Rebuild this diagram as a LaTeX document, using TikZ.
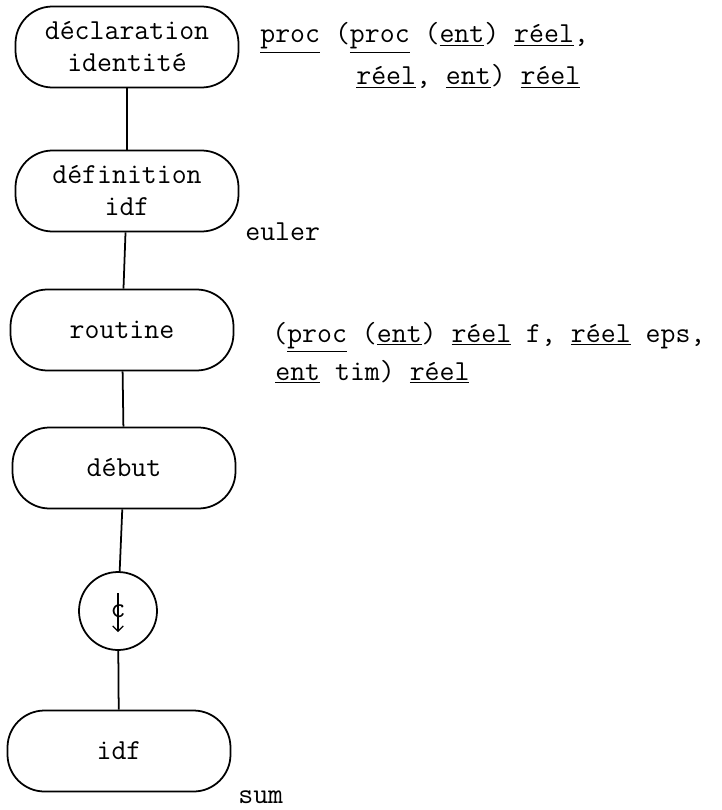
\documentclass[tikz,border=0pt]{standalone}
\usetikzlibrary{arrows.meta}
\newcommand{\kw}[1]{\underline{#1}}
\begin{document}
\begin{tikzpicture}[
  flowfont/.style = {font=\ttfamily\fontsize{16.5}{18.2}\selectfont},
  flowbox/.style = {draw, line width=1pt, rectangle, rounded corners=0.74cm,
                    minimum width=4.46cm, minimum height=1.62cm, align=center, flowfont},
  flowcirc/.style = {draw, line width=1pt, circle, minimum size=1.56cm, inner sep=0pt, flowfont},
  flowline/.style = {line width=1pt},
  flowlbl/.style = {anchor=base west, inner sep=0pt, flowfont}
]
  \useasboundingbox (0,0) rectangle (14.44,-16.2);
  % boites
  \node[flowbox] (decl)  at (2.54,-0.94)  {déclaration\\identité};
  \node[flowbox] (defn)  at (2.54,-3.82)  {définition\\idf};
  \node[flowbox] (rout)  at (2.44,-6.60)  {routine};
  \node[flowbox] (debut) at (2.48,-9.36)  {début};
  \node[flowcirc] (sym)  at (2.36,-12.22) {c};
  \node[flowbox] (idf)   at (2.38,-15.02) {idf};
  % fleche du symbole
  \draw[line width=0.7pt, -{Straight Barb[length=3pt]}]
    ([yshift=0.36cm]sym.center) -- ([yshift=-0.42cm]sym.center);
  % liaisons
  \draw[flowline] (decl) -- (defn);
  \draw[flowline] (defn) -- (rout);
  \draw[flowline] (rout) -- (debut);
  \draw[flowline] (debut) -- (sym);
  \draw[flowline] (sym) -- (idf);
  % textes
  \node[flowlbl] (mode1) at (5.20,-0.86) {\kw{proc} (\kw{proc} (\kw{ent}) \kw{réel},};
  \node[flowlbl] (mode2) at (7.12,-1.70) {\kw{réel}, \kw{ent}) \kw{réel}};
  \node[flowlbl] (euler) at (4.90,-4.80) {euler};
  \node[flowlbl] (par1)  at (5.44,-6.84) {(\kw{proc} (\kw{ent}) \kw{réel} f, \kw{réel} eps,};
  \node[flowlbl] (par2)  at (5.50,-7.60) {\kw{ent} tim) \kw{réel}};
  \node[flowlbl] (sum)   at (4.76,-16.06) {sum};
\end{tikzpicture}
\end{document}
